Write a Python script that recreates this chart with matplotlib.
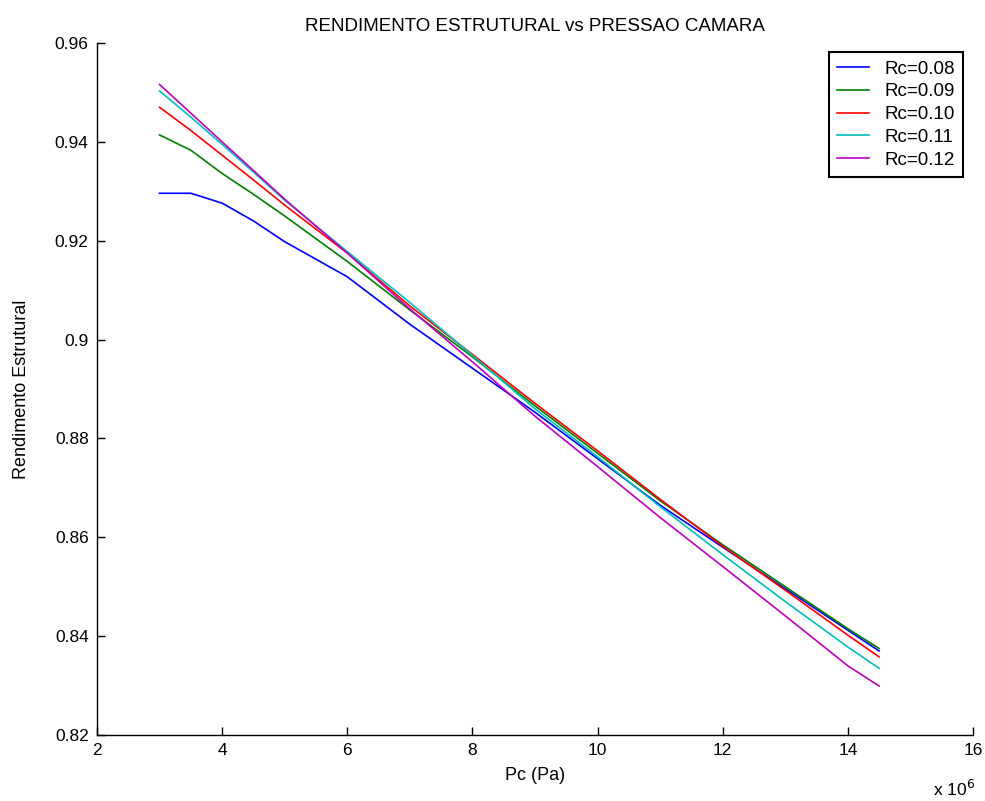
import matplotlib
matplotlib.use("Agg")
import matplotlib.pyplot as plt
from matplotlib.ticker import FuncFormatter, MultipleLocator

plt.rcParams['font.family'] = ['Liberation Sans', 'DejaVu Sans']

# Chamber pressure (Pa)
pc = [3.0e6, 3.5e6, 4.0e6, 4.5e6, 5.0e6, 6.0e6, 7.0e6, 8.0e6, 9.0e6,
      10.0e6, 11.0e6, 12.0e6, 13.0e6, 14.0e6, 14.5e6]

# Structural efficiency for each Rc
rend_008 = [0.9296, 0.9296, 0.9276, 0.9240, 0.9198, 0.9127, 0.9031, 0.8942, 0.8853,
            0.8759, 0.8665, 0.8580, 0.8496, 0.8412, 0.8370]
rend_009 = [0.9414, 0.9383, 0.9336, 0.9294, 0.9250, 0.9158, 0.9060, 0.8965, 0.8866,
            0.8770, 0.8674, 0.8585, 0.8500, 0.8415, 0.8375]
rend_010 = [0.9470, 0.9423, 0.9373, 0.9323, 0.9272, 0.9175, 0.9068, 0.8970, 0.8871,
            0.8775, 0.8677, 0.8582, 0.8493, 0.8402, 0.8358]
rend_011 = [0.9503, 0.9450, 0.9395, 0.9339, 0.9282, 0.9178, 0.9075, 0.8968, 0.8860,
            0.8763, 0.8662, 0.8565, 0.8470, 0.8378, 0.8335]
rend_012 = [0.9516, 0.9458, 0.9400, 0.9342, 0.9284, 0.9175, 0.9062, 0.8955, 0.8845,
            0.8743, 0.8640, 0.8541, 0.8441, 0.8340, 0.8299]

labels = ['Rc=0.08', 'Rc=0.09', 'Rc=0.10', 'Rc=0.11', 'Rc=0.12']
series = [rend_008, rend_009, rend_010, rend_011, rend_012]
colors = ['#0000FF', '#008000', '#FF0000', '#00BFBF', '#BF00BF']

fig = plt.figure(figsize=(9.85, 8.01), dpi=100)
ax = fig.add_axes([0.0985, 0.0824, 0.8893, 0.8639])

for y, lab, c in zip(series, labels, colors):
    ax.plot(pc, y, color=c, lw=1.2, label=lab)

ax.set_xlim(2e6, 16e6)
ax.set_ylim(0.82, 0.96)
ax.xaxis.set_major_locator(MultipleLocator(2e6))
ax.yaxis.set_major_locator(MultipleLocator(0.02))
ax.xaxis.set_major_formatter(FuncFormatter(lambda v, p: f"{v/1e6:g}"))
ax.yaxis.set_major_formatter(FuncFormatter(lambda v, p: f"{round(v, 2):g}"))

ax.spines['top'].set_visible(False)
ax.spines['right'].set_visible(False)
for s in ('left', 'bottom'):
    ax.spines[s].set_linewidth(1.0)
ax.tick_params(direction='in', length=6, width=1.0, labelsize=12.5, pad=6)

ax.set_title('RENDIMENTO ESTRUTURAL vs PRESSAO CAMARA', fontsize=13.5, pad=9)
ax.set_xlabel('Pc (Pa)', fontsize=13, labelpad=6)
ax.set_ylabel('Rendimento Estrutural', fontsize=13, labelpad=18)

fig.text(0.9898, 0.003, r'x 10$^{6}$', ha='right', va='bottom', fontsize=12.5)

leg = ax.legend(loc='upper right', bbox_to_anchor=(0.9886, 0.987), borderaxespad=0,
                fontsize=13.5, frameon=True, fancybox=False, framealpha=1,
                edgecolor='black', handlelength=1.7, handletextpad=0.8,
                borderpad=0.45, labelspacing=0.3)
leg.get_frame().set_linewidth(1.5)

fig.savefig('out.png', dpi=100)
